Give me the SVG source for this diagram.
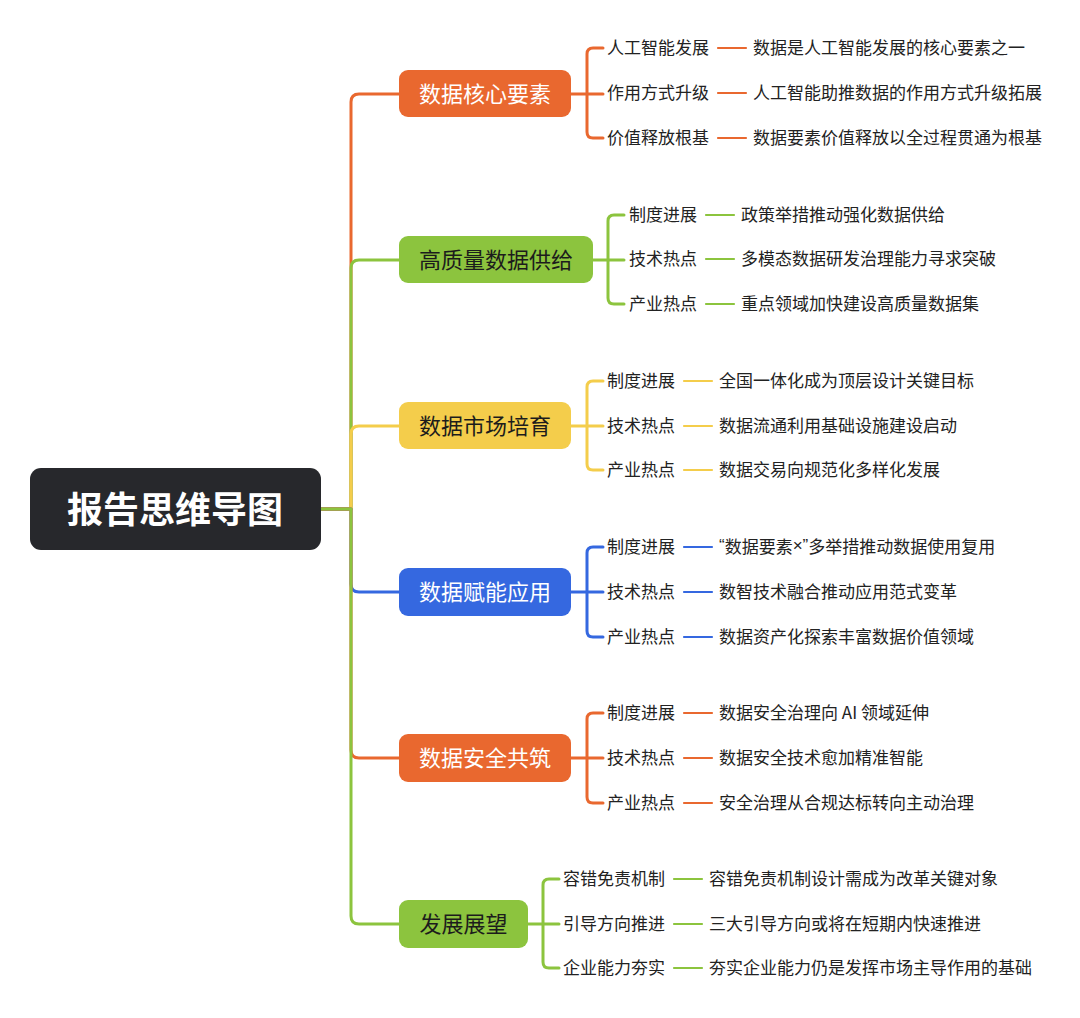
<svg xmlns="http://www.w3.org/2000/svg" width="1080" height="1018" viewBox="0 0 1080 1018">
<style>
text{font-family:"Noto Sans CJK SC","Noto Sans",sans-serif;dominant-baseline:central;transform:translateY(-2px)}
.lat{font-family:"Liberation Sans",sans-serif}
.c{fill:none;stroke-width:3;stroke-linecap:round;stroke-linejoin:round}
.o{stroke:#e9682f}.g{stroke:#8cc43e}.y{stroke:#f4cd4b}.b{stroke:#3568e0}
.d{stroke-width:2.2}
.root{font-size:36px;font-weight:700;fill:#ffffff}
.mt{font-size:22px;text-anchor:middle}
.w{fill:#ffffff}.k{fill:#1c1c1c}
.st{font-size:17px;fill:#222222}
</style>
<rect width="1080" height="1018" fill="#ffffff"/>
<g id="connectors">
<path class="c o" d="M321,509 H351 V102 Q351,94 359,94 H399"/>
<path class="c g" d="M321,509 H351 V268 Q351,260 359,260 H399"/>
<path class="c y" d="M321,509 H351 V434 Q351,426 359,426 H399"/>
<path class="c b" d="M321,509 H351 V584 Q351,592 359,592 H399"/>
<path class="c o" d="M321,509 H351 V750 Q351,758 359,758 H399"/>
<path class="c g" d="M321,509 H351 V916 Q351,924 359,924 H399"/>
<path class="c o" d="M571,94 H603 M603,48 H593 Q587,48 587,54 V132 Q587,138 593,138 H603"/>
<path class="c o d" d="M718,48 H746 M718,93 H746 M718,138 H746"/>
<path class="c g" d="M593,260 H624 M624,215 H614 Q608,215 608,221 V298 Q608,304 614,304 H624"/>
<path class="c g d" d="M706,215 H734 M706,259 H734 M706,304 H734"/>
<path class="c y" d="M571,426 H603 M603,381 H593 Q587,381 587,387 V464 Q587,470 593,470 H603"/>
<path class="c y d" d="M684,381 H712 M684,426 H712 M684,470 H712"/>
<path class="c b" d="M571,592 H603 M603,547 H593 Q587,547 587,553 V631 Q587,637 593,637 H603"/>
<path class="c b d" d="M684,547 H712 M684,592 H712 M684,637 H712"/>
<path class="c o" d="M571,758 H603 M603,713 H593 Q587,713 587,719 V797 Q587,803 593,803 H603"/>
<path class="c o d" d="M684,713 H712 M684,758 H712 M684,803 H712"/>
<path class="c g" d="M528,924 H559 M559,879 H549 Q543,879 543,885 V962 Q543,968 549,968 H559"/>
<path class="c g d" d="M674,879 H702 M674,924 H702 M674,968 H702"/>
</g>
<g id="root">
<rect x="30" y="468" width="291" height="82" rx="11" fill="#27282c"/>
<text class="root" x="175" y="509" text-anchor="middle">报告思维导图</text>
</g>
<g id="b1">
<rect x="399" y="70" width="172" height="47" rx="9" fill="#e9682f"/>
<text class="mt w" x="485" y="94">数据核心要素</text>
<text class="st" x="607" y="48">人工智能发展</text>
<text class="st" x="607" y="93">作用方式升级</text>
<text class="st" x="607" y="138">价值释放根基</text>
<text class="st" x="753" y="48">数据是人工智能发展的核心要素之一</text>
<text class="st" x="753" y="93">人工智能助推数据的作用方式升级拓展</text>
<text class="st" x="753" y="138">数据要素价值释放以全过程贯通为根基</text>
</g>
<g id="b2">
<rect x="399" y="236" width="194" height="47" rx="9" fill="#8cc43e"/>
<text class="mt k" x="496" y="260">高质量数据供给</text>
<text class="st" x="629" y="215">制度进展</text>
<text class="st" x="629" y="259">技术热点</text>
<text class="st" x="629" y="304">产业热点</text>
<text class="st" x="741" y="215">政策举措推动强化数据供给</text>
<text class="st" x="741" y="259">多模态数据研发治理能力寻求突破</text>
<text class="st" x="741" y="304">重点领域加快建设高质量数据集</text>
</g>
<g id="b3">
<rect x="399" y="402" width="172" height="47" rx="9" fill="#f4cd4b"/>
<text class="mt k" x="485" y="426">数据市场培育</text>
<text class="st" x="607" y="381">制度进展</text>
<text class="st" x="607" y="426">技术热点</text>
<text class="st" x="607" y="470">产业热点</text>
<text class="st" x="719" y="381">全国一体化成为顶层设计关键目标</text>
<text class="st" x="719" y="426">数据流通利用基础设施建设启动</text>
<text class="st" x="719" y="470">数据交易向规范化多样化发展</text>
</g>
<g id="b4">
<rect x="399" y="568" width="172" height="48" rx="9" fill="#3568e0"/>
<text class="mt w" x="485" y="592">数据赋能应用</text>
<text class="st" x="607" y="547">制度进展</text>
<text class="st" x="607" y="592">技术热点</text>
<text class="st" x="607" y="637">产业热点</text>
<text class="st" x="719" y="547"><tspan class="lat">“</tspan>数据要素<tspan class="lat">×”</tspan>多举措推动数据使用复用</text>
<text class="st" x="719" y="592">数智技术融合推动应用范式变革</text>
<text class="st" x="719" y="637">数据资产化探索丰富数据价值领域</text>
</g>
<g id="b5">
<rect x="399" y="734" width="172" height="48" rx="9" fill="#e9682f"/>
<text class="mt w" x="485" y="758">数据安全共筑</text>
<text class="st" x="607" y="713">制度进展</text>
<text class="st" x="607" y="758">技术热点</text>
<text class="st" x="607" y="803">产业热点</text>
<text class="st" x="719" y="713">数据安全治理向 AI 领域延伸</text>
<text class="st" x="719" y="758">数据安全技术愈加精准智能</text>
<text class="st" x="719" y="803">安全治理从合规达标转向主动治理</text>
</g>
<g id="b6">
<rect x="399" y="900" width="129" height="48" rx="9" fill="#8cc43e"/>
<text class="mt k" x="463.5" y="924">发展展望</text>
<text class="st" x="563" y="879">容错免责机制</text>
<text class="st" x="563" y="924">引导方向推进</text>
<text class="st" x="563" y="968">企业能力夯实</text>
<text class="st" x="709" y="879">容错免责机制设计需成为改革关键对象</text>
<text class="st" x="709" y="924">三大引导方向或将在短期内快速推进</text>
<text class="st" x="709" y="968">夯实企业能力仍是发挥市场主导作用的基础</text>
</g>
</svg>
